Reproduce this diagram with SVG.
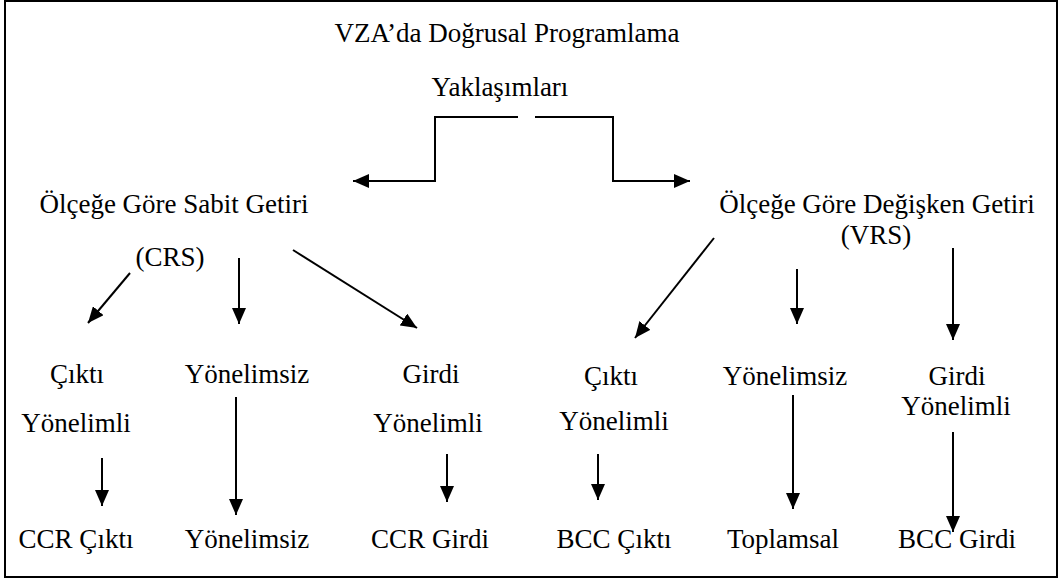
<svg xmlns="http://www.w3.org/2000/svg" width="1060" height="581" viewBox="0 0 1060 581">
<defs>
<marker id="ah" markerUnits="userSpaceOnUse" markerWidth="16" markerHeight="14" refX="16" refY="7" orient="auto">
<path d="M0,0 L16,7 L0,14 z" fill="#000"/>
</marker>
<style>
text{font-size:27px;fill:#000;text-anchor:middle}
.c{fill:none;stroke:#000;stroke-width:2;marker-end:url(#ah)}
</style>
</defs>
<rect x="5" y="1" width="1052" height="576" fill="#fff" stroke="#000" stroke-width="2"/>
<g font-family="Liberation Serif, Times New Roman, serif">
<g id="root"><text x="507" y="42">VZA’da Doğrusal Programlama</text><text x="500" y="96">Yaklaşımları</text></g>
<g id="crs"><text x="174" y="213">Ölçeğe Göre Sabit Getiri</text><text x="170" y="266">(CRS)</text></g>
<g id="vrs"><text x="877" y="213">Ölçeğe Göre Değişken Getiri</text><text x="876" y="244">(VRS)</text></g>
<g id="crs-out"><text x="77" y="383">Çıktı</text><text x="76" y="432">Yönelimli</text></g>
<g id="crs-non"><text x="247" y="383">Yönelimsiz</text></g>
<g id="crs-in"><text x="431" y="383">Girdi</text><text x="428" y="432">Yönelimli</text></g>
<g id="vrs-out"><text x="611" y="385">Çıktı</text><text x="614" y="430">Yönelimli</text></g>
<g id="vrs-non"><text x="785" y="385">Yönelimsiz</text></g>
<g id="vrs-in"><text x="957" y="385">Girdi</text><text x="956" y="415">Yönelimli</text></g>
<g id="ccr-out"><text x="76" y="548">CCR Çıktı</text></g>
<g id="ccr-non"><text x="247" y="548">Yönelimsiz</text></g>
<g id="ccr-in"><text x="430" y="548">CCR Girdi</text></g>
<g id="bcc-out"><text x="614" y="548">BCC Çıktı</text></g>
<g id="bcc-add"><text x="783" y="548">Toplamsal</text></g>
<g id="bcc-in"><text x="957" y="548">BCC Girdi</text></g>
</g>
<g id="connectors">
<path class="c" d="M518,117 H435 V181 H353"/>
<path class="c" d="M535,117 H613 V181 H690"/>
<path class="c" d="M130,273 L88,323"/>
<path class="c" d="M239,258 V324"/>
<path class="c" d="M293,250 L417,328"/>
<path class="c" d="M714,238 L635,338"/>
<path class="c" d="M797,269 V324"/>
<path class="c" d="M953,248 V340"/>
<path class="c" d="M102,458 V506"/>
<path class="c" d="M236,397 V515"/>
<path class="c" d="M447,454 V502"/>
<path class="c" d="M598,454 V500"/>
<path class="c" d="M793,395 V509"/>
<path class="c" d="M953,432 V532"/>
</g>
</svg>
